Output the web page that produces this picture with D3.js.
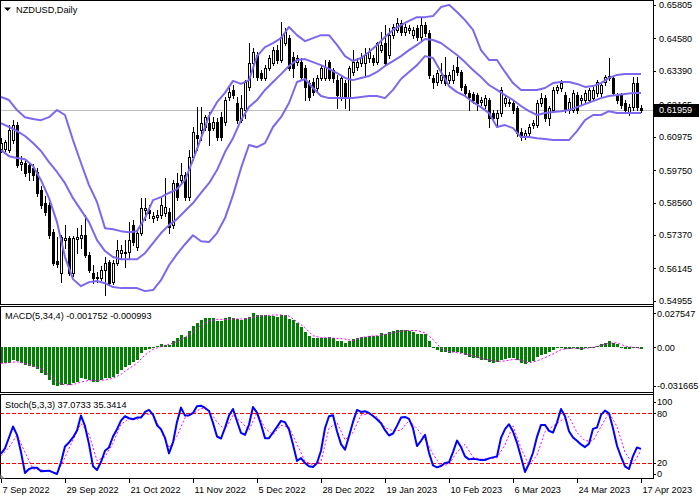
<!DOCTYPE html>
<html><head><meta charset="utf-8">
<script src="https://cdn.jsdelivr.net/npm/d3@7"></script>
<style>
html,body{margin:0;padding:0;background:#fff;}
svg{display:block;}
text{font-family:"Liberation Sans",Arial,sans-serif;font-size:9.2px;}
</style></head><body>
<svg id="c" width="699" height="500"></svg>
<script>
// ---------------- DATA ----------------
const symbolTitle = "NZDUSD,Daily";
const dateLabels = ["7 Sep 2022","29 Sep 2022","21 Oct 2022","11 Nov 2022","5 Dec 2022","28 Dec 2022","19 Jan 2023","10 Feb 2023","6 Mar 2023","24 Mar 2023","17 Apr 2023"];
const dateTickBars = [0,16,32,48,64,80,96,112,128,144,160];

const open = [0.6052,0.6052,0.6048,0.6085,0.6140,0.5997,0.6001,0.5993,0.5982,0.5968,
0.5902,0.5854,0.5847,0.5747,0.5641,0.5597,0.5718,0.5725,0.5597,0.5722,
0.5725,0.5736,0.5663,0.5597,0.5579,0.5579,0.5608,0.5637,0.5564,0.5634,
0.5670,0.5670,0.5674,0.5773,0.5692,0.5744,0.5828,0.5828,0.5799,0.5802,
0.5810,0.5817,0.5821,0.5773,0.5927,0.5938,0.5957,0.5876,0.6023,0.6103,
0.6122,0.6133,0.6147,0.6129,0.6151,0.6169,0.6151,0.6243,0.6269,0.6221,
0.6158,0.6195,0.6280,0.6368,0.6397,0.6331,0.6313,0.6349,0.6368,0.6415,
0.6379,0.6441,0.6459,0.6390,0.6371,0.6371,0.6349,0.6294,0.6298,0.6276,
0.6313,0.6313,0.6371,0.6342,0.6305,0.6243,0.6294,0.6243,0.6335,0.6353,
0.6368,0.6368,0.6386,0.6386,0.6371,0.6415,0.6441,0.6397,0.6470,0.6489,
0.6514,0.6481,0.6489,0.6470,0.6496,0.6463,0.6507,0.6478,0.6313,0.6298,
0.6305,0.6324,0.6305,0.6305,0.6353,0.6335,0.6283,0.6258,0.6254,0.6250,
0.6224,0.6213,0.6232,0.6184,0.6166,0.6184,0.6221,0.6224,0.6221,0.6202,
0.6114,0.6096,0.6111,0.6140,0.6140,0.6221,0.6239,0.6166,0.6195,0.6269,
0.6276,0.6250,0.6195,0.6195,0.6250,0.6232,0.6232,0.6232,0.6239,0.6258,
0.6258,0.6298,0.6313,0.6313,0.6250,0.6250,0.6221,0.6184,0.6206,0.6294,
0.6202];
const high = [0.6092,0.6085,0.6140,0.6158,0.6151,0.6026,0.6012,0.6001,0.5997,0.5982,
0.5916,0.5880,0.5858,0.5758,0.5729,0.5736,0.5773,0.5733,0.5733,0.5762,
0.5773,0.5810,0.5674,0.5626,0.5601,0.5623,0.5656,0.5645,0.5645,0.5718,
0.5700,0.5718,0.5784,0.5791,0.5755,0.5872,0.5872,0.5847,0.5821,0.5828,
0.5872,0.5946,0.5835,0.5938,0.5964,0.6001,0.5968,0.6048,0.6133,0.6206,
0.6206,0.6177,0.6188,0.6169,0.6166,0.6188,0.6243,0.6287,0.6287,0.6243,
0.6250,0.6305,0.6441,0.6423,0.6408,0.6342,0.6360,0.6397,0.6426,0.6434,
0.6518,0.6496,0.6470,0.6408,0.6397,0.6386,0.6360,0.6305,0.6313,0.6324,
0.6360,0.6379,0.6379,0.6349,0.6324,0.6324,0.6305,0.6357,0.6415,0.6386,
0.6404,0.6423,0.6423,0.6397,0.6445,0.6481,0.6507,0.6496,0.6511,0.6533,
0.6525,0.6511,0.6507,0.6500,0.6507,0.6533,0.6518,0.6489,0.6324,0.6342,
0.6368,0.6390,0.6335,0.6360,0.6390,0.6342,0.6291,0.6269,0.6261,0.6258,
0.6243,0.6250,0.6239,0.6195,0.6195,0.6280,0.6250,0.6235,0.6228,0.6210,
0.6129,0.6122,0.6144,0.6158,0.6232,0.6258,0.6250,0.6210,0.6280,0.6287,
0.6305,0.6261,0.6239,0.6269,0.6261,0.6250,0.6269,0.6276,0.6280,0.6305,
0.6298,0.6324,0.6386,0.6320,0.6258,0.6258,0.6232,0.6217,0.6316,0.6316,
0.6213];
const low = [0.6041,0.6045,0.6041,0.6074,0.5986,0.5975,0.5953,0.5938,0.5938,0.5880,
0.5835,0.5810,0.5725,0.5626,0.5619,0.5564,0.5689,0.5590,0.5586,0.5670,
0.5689,0.5656,0.5601,0.5560,0.5564,0.5571,0.5516,0.5553,0.5557,0.5626,
0.5652,0.5619,0.5652,0.5700,0.5681,0.5736,0.5791,0.5799,0.5784,0.5791,
0.5799,0.5806,0.5744,0.5762,0.5865,0.5927,0.5865,0.5865,0.6012,0.6048,
0.6085,0.6122,0.6067,0.6122,0.6085,0.6085,0.6140,0.6232,0.6239,0.6147,
0.6151,0.6166,0.6269,0.6316,0.6305,0.6305,0.6305,0.6342,0.6360,0.6368,
0.6371,0.6434,0.6342,0.6316,0.6360,0.6305,0.6232,0.6232,0.6250,0.6261,
0.6305,0.6305,0.6305,0.6298,0.6202,0.6232,0.6202,0.6195,0.6324,0.6342,
0.6357,0.6324,0.6371,0.6360,0.6364,0.6408,0.6360,0.6386,0.6459,0.6481,
0.6470,0.6470,0.6478,0.6459,0.6452,0.6452,0.6467,0.6313,0.6276,0.6287,
0.6294,0.6287,0.6294,0.6294,0.6324,0.6269,0.6247,0.6195,0.6221,0.6195,
0.6213,0.6202,0.6133,0.6155,0.6133,0.6173,0.6210,0.6210,0.6184,0.6100,
0.6085,0.6089,0.6100,0.6129,0.6133,0.6210,0.6155,0.6140,0.6188,0.6258,
0.6265,0.6188,0.6184,0.6188,0.6184,0.6217,0.6221,0.6224,0.6232,0.6247,
0.6247,0.6287,0.6305,0.6250,0.6221,0.6202,0.6188,0.6177,0.6195,0.6195,
0.6188];
const close = [0.6074,0.6078,0.6122,0.6140,0.5993,0.6004,0.5964,0.5968,0.5957,0.5891,
0.5847,0.5821,0.5736,0.5634,0.5630,0.5729,0.5725,0.5597,0.5725,0.5729,
0.5736,0.5663,0.5608,0.5579,0.5582,0.5608,0.5634,0.5560,0.5634,0.5681,
0.5681,0.5674,0.5718,0.5711,0.5744,0.5835,0.5835,0.5817,0.5806,0.5810,
0.5847,0.5839,0.5766,0.5927,0.5876,0.5957,0.5876,0.6023,0.6114,0.6092,
0.6147,0.6169,0.6122,0.6151,0.6096,0.6096,0.6232,0.6261,0.6250,0.6158,
0.6202,0.6298,0.6368,0.6408,0.6316,0.6313,0.6349,0.6386,0.6415,0.6379,
0.6463,0.6481,0.6349,0.6349,0.6386,0.6316,0.6280,0.6243,0.6261,0.6313,
0.6349,0.6353,0.6313,0.6313,0.6250,0.6313,0.6239,0.6349,0.6371,0.6371,
0.6390,0.6397,0.6408,0.6371,0.6441,0.6434,0.6368,0.6470,0.6500,0.6514,
0.6481,0.6500,0.6496,0.6489,0.6463,0.6507,0.6478,0.6324,0.6298,0.6331,
0.6324,0.6294,0.6324,0.6342,0.6335,0.6280,0.6258,0.6243,0.6232,0.6221,
0.6232,0.6239,0.6166,0.6166,0.6184,0.6269,0.6239,0.6221,0.6195,0.6111,
0.6096,0.6111,0.6133,0.6147,0.6221,0.6239,0.6166,0.6202,0.6269,0.6280,
0.6294,0.6195,0.6224,0.6258,0.6195,0.6239,0.6258,0.6269,0.6269,0.6298,
0.6287,0.6316,0.6320,0.6258,0.6232,0.6213,0.6195,0.6206,0.6294,0.6206,
0.6196];

// Bollinger Bands, read every second bar
const bbBars = d3.range(0, 161, 2);
const bbUpper = [0.6243,0.6232,0.6195,0.6169,0.6162,0.6158,0.6169,0.6195,0.6177,0.6085,
0.6001,0.5920,0.5858,0.5762,0.5758,0.5751,0.5747,0.5751,0.5799,0.5865,
0.5876,0.5891,0.5905,0.5938,0.6012,0.6092,0.6173,0.6224,0.6258,0.6302,
0.6291,0.6305,0.6393,0.6426,0.6441,0.6459,0.6500,0.6470,0.6448,0.6459,
0.6470,0.6470,0.6434,0.6393,0.6375,0.6386,0.6408,0.6434,0.6463,0.6489,
0.6507,0.6522,0.6536,0.6536,0.6540,0.6573,0.6581,0.6555,0.6525,0.6489,
0.6415,0.6379,0.6379,0.6335,0.6294,0.6269,0.6269,0.6269,0.6276,0.6294,
0.6298,0.6298,0.6291,0.6280,0.6283,0.6294,0.6313,0.6324,0.6327,0.6327,
0.6327];
const bbMiddle = [0.6147,0.6133,0.6118,0.6100,0.6074,0.6045,0.6004,0.5968,0.5927,0.5872,
0.5828,0.5784,0.5718,0.5678,0.5656,0.5648,0.5648,0.5648,0.5670,0.5707,
0.5744,0.5773,0.5795,0.5825,0.5854,0.5891,0.5927,0.5975,0.6041,0.6092,
0.6158,0.6206,0.6232,0.6269,0.6298,0.6327,0.6357,0.6379,0.6382,0.6371,
0.6360,0.6346,0.6331,0.6313,0.6305,0.6313,0.6320,0.6335,0.6357,0.6375,
0.6393,0.6415,0.6434,0.6456,0.6452,0.6441,0.6419,0.6397,0.6371,0.6342,
0.6316,0.6287,0.6269,0.6250,0.6232,0.6210,0.6191,0.6177,0.6184,0.6188,
0.6191,0.6195,0.6206,0.6217,0.6228,0.6239,0.6247,0.6250,0.6254,0.6258,
0.6258];
const bbLower = [0.6048,0.6026,0.6019,0.6015,0.5990,0.5938,0.5872,0.5784,0.5656,0.5575,
0.5549,0.5564,0.5568,0.5560,0.5546,0.5542,0.5542,0.5542,0.5531,0.5535,
0.5571,0.5626,0.5667,0.5703,0.5736,0.5714,0.5711,0.5744,0.5799,0.5883,
0.5982,0.6067,0.6059,0.6074,0.6133,0.6169,0.6221,0.6298,0.6309,0.6276,
0.6247,0.6239,0.6239,0.6239,0.6239,0.6243,0.6247,0.6247,0.6239,0.6269,
0.6309,0.6335,0.6360,0.6393,0.6386,0.6335,0.6283,0.6261,0.6247,0.6224,
0.6206,0.6184,0.6133,0.6140,0.6129,0.6096,0.6096,0.6092,0.6089,0.6085,
0.6085,0.6085,0.6118,0.6158,0.6177,0.6177,0.6191,0.6184,0.6184,0.6184,
0.6184];

// MACD(5,34,4)
const macdMain = [-0.0132,-0.0132,-0.0132,-0.0105,-0.0113,-0.0132,-0.0146,-0.0151,-0.0159,-0.0178,
-0.0214,-0.0227,-0.0268,-0.0306,-0.031665,-0.0310,-0.0302,-0.0310,-0.0293,-0.0280,
-0.0254,-0.0260,-0.0268,-0.0287,-0.0287,-0.0268,-0.0254,-0.0254,-0.0241,-0.0222,
-0.0187,-0.0159,-0.0146,-0.0119,-0.0105,-0.0051,-0.0024,-0.0016,-0.0010,0.0012,
0.0023,0.0017,0.0017,0.0050,0.0077,0.0099,0.0085,0.0131,0.0172,0.0194,
0.0221,0.0234,0.0234,0.0234,0.0213,0.0213,0.0234,0.0248,0.0234,0.0229,
0.0221,0.0234,0.0248,0.027547,0.0260,0.0258,0.0258,0.0254,0.0254,0.0248,
0.0262,0.0262,0.0229,0.0221,0.0194,0.0166,0.0126,0.0093,0.0077,0.0071,
0.0077,0.0077,0.0085,0.0077,0.0050,0.0050,0.0031,0.0050,0.0066,0.0077,
0.0085,0.0085,0.0090,0.0090,0.0093,0.0112,0.0104,0.0120,0.0131,0.0139,
0.0139,0.0139,0.0134,0.0126,0.0107,0.0107,0.0107,0.0050,0.0001,-0.0024,
-0.0037,-0.0043,-0.0051,-0.0043,-0.0043,-0.0051,-0.0064,-0.0078,-0.0086,-0.0091,
-0.0105,-0.0105,-0.0119,-0.0132,-0.0119,-0.0105,-0.0097,-0.0091,-0.0086,-0.0105,
-0.0132,-0.0140,-0.0124,-0.0113,-0.0078,-0.0064,-0.0059,-0.0037,-0.0024,-0.0005,
-0.0002,-0.0015,-0.0015,-0.0010,-0.0015,-0.0024,-0.0010,-0.0010,-0.0002,0.0009,
0.0023,0.0036,0.0050,0.0031,0.0023,0.0004,-0.0015,-0.0015,-0.0005,-0.0005,
-0.001752];
const macdSignalBars = d3.range(0, 161, 2);
const macdSignal = [-0.0132,-0.0127,-0.0119,-0.0132,-0.0154,-0.0178,-0.0227,-0.0287,-0.0308,-0.0305,
-0.0285,-0.0270,-0.0270,-0.0268,-0.0254,-0.0222,-0.0173,-0.0132,-0.0064,-0.0018,
0.0004,0.0023,0.0044,0.0080,0.0120,0.0180,0.0213,0.0226,0.0226,0.0229,
0.0229,0.0234,0.0253,0.0256,0.0262,0.0262,0.0253,0.0207,0.0158,0.0093,
0.0077,0.0077,0.0071,0.0066,0.0052,0.0077,0.0088,0.0093,0.0104,0.0117,
0.0131,0.0136,0.0134,0.0117,0.0063,-0.0010,-0.0037,-0.0045,-0.0056,-0.0070,
-0.0091,-0.0105,-0.0116,-0.0113,-0.0100,-0.0105,-0.0129,-0.0111,-0.0086,-0.0056,
-0.0021,-0.0010,-0.0010,-0.0010,-0.0002,0.0014,0.0031,0.0036,0.0009,-0.0002,
-0.000993];

// Stochastic(5,3,3)
const stochMain = [31.2,37.6,50.8,64.0,54.0,33.2,8.0,12.8,14.4,14.4,
10.0,10.4,10.8,8.8,6.8,20.8,40.0,44.8,50.8,59.2,
77.2,64.4,42.8,16.0,11.6,21.2,34.8,38.8,52.0,60.8,
71.2,76.4,74.0,72.8,74.8,74.8,81.6,84.0,78.4,65.6,
60.8,50.4,31.6,44.8,69.6,86.8,77.2,77.6,80.4,88.4,
89.2,86.4,82.8,68.4,52.0,49.6,62.4,77.2,85.2,70.4,
56.4,54.0,66.4,87.6,80.8,66.8,50.0,50.0,56.8,63.6,
70.8,69.2,60.4,42.4,22.4,26.0,20.0,16.0,15.2,20.0,
34.8,62.0,76.4,77.6,58.4,42.8,36.0,52.4,69.6,84.0,
81.6,82.4,80.4,76.8,72.8,68.0,59.6,53.2,55.6,64.8,
74.8,75.6,73.2,62.0,40.4,46.8,54.0,32.4,17.2,14.8,
16.4,20.0,20.8,33.2,47.2,39.2,28.0,24.4,25.2,24.4,
23.6,23.6,25.6,26.8,28.0,50.4,60.8,66.8,58.0,44.4,
27.2,9.2,19.2,32.4,51.6,66.0,66.0,58.8,56.8,68.8,
85.2,76.4,58.4,50.8,46.8,42.4,39.2,43.2,61.2,62.8,
78.0,83.2,80.0,62.0,40.8,27.6,16.0,12.8,28.4,38.8,
37.0733];
const stochSignalBars = d3.range(0, 161, 2);
const stochSignal = [28.8,38.8,54.0,33.0,13.0,11.6,10.0,7.2,26.8,48.0,
67.6,55.0,22.8,27.6,44.0,66.8,73.6,72.4,78.8,79.0,
59.0,38.4,52.4,74.8,79.6,86.0,84.0,69.2,60.4,77.6,
69.6,59.6,81.2,62.0,54.0,65.6,63.2,42.8,22.0,18.0,
21.6,62.0,68.8,48.0,56.8,78.0,79.2,75.6,62.8,58.8,
59.6,71.2,61.6,48.8,30.8,16.4,18.4,33.2,42.4,27.0,
24.4,25.2,26.4,42.0,64.8,38.0,17.2,29.6,58.0,64.4,
71.2,76.0,56.8,46.8,46.8,64.0,80.8,64.0,33.0,18.8,
35.3414];

const priceTicks = [0.65805,0.64580,0.63390,0.62165,0.60975,0.59750,0.58560,0.57370,0.56145,0.54955];
const currentPrice = 0.61959;
const macdTicks = [0.027547, 0, -0.031665];
const stochTicks = [100, 80, 20, 0];
const stochLevels = [80, 20];
const macdLabel = "MACD(5,34,4) -0.001752 -0.000993";
const stochLabel = "Stoch(5,3,3) 37.0733 35.3414";

// ---------------- LAYOUT ----------------
const plotRight = 653;
const mainTop = 0.5, mainBottom = 304.5;
const macdTop = 306.5, macdBottom = 392.5;
const stTop = 394.5, stBottom = 478.5;

const svg = d3.select("#c");
const x = d3.scaleLinear().domain([0, 160]).range([1, 641]);
const yMain = d3.scaleLinear().domain([0.54955, 0.65805]).range([300.8, 5]);
const yMacd = d3.scaleLinear().domain([-0.031665, 0.027547]).range([386, 313.3]);
const ySt = d3.scaleLinear().domain([0, 100]).range([479.6, 396.7]);

const defs = svg.append("defs");
function clip(id, y0, y1) {
  defs.append("clipPath").attr("id", id).append("rect")
    .attr("x", 1).attr("y", y0).attr("width", plotRight - 1).attr("height", y1 - y0);
}
clip("clipMain", 1, mainBottom);
clip("clipMacd", macdTop + 0.5, macdBottom);
clip("clipSt", stTop + 0.5, stBottom);

// ----- main panel -----
const gMain = svg.append("g").attr("clip-path", "url(#clipMain)");
gMain.append("line").attr("shape-rendering", "crispEdges")
  .attr("x1", 0).attr("x2", plotRight)
  .attr("y1", Math.round(yMain(currentPrice)) + 0.5).attr("y2", Math.round(yMain(currentPrice)) + 0.5)
  .attr("stroke", "#c0c0c0");

const candles = open.map((o, i) => ({ i, o, h: high[i], l: low[i], c: close[i] }));
const gC = gMain.append("g").attr("shape-rendering", "crispEdges");
gC.selectAll("line").data(candles).join("line")
  .attr("x1", d => x(d.i) + 0.5).attr("x2", d => x(d.i) + 0.5)
  .attr("y1", d => Math.round(yMain(d.h))).attr("y2", d => Math.round(yMain(d.l)) + 1)
  .attr("stroke", "#000");
gC.selectAll("rect").data(candles).join("rect")
  .each(function (d) {
    const t = Math.round(yMain(Math.max(d.o, d.c)));
    const b = Math.round(yMain(Math.min(d.o, d.c)));
    const X = x(d.i);
    const r = d3.select(this);
    if (d.c > d.o) {
      r.attr("x", X - 0.5).attr("y", t + 0.5).attr("width", 2).attr("height", Math.max(1, b - t))
        .attr("fill", "#fff").attr("stroke", "#000");
    } else {
      r.attr("x", X - 1).attr("y", t).attr("width", 3).attr("height", Math.max(1, b - t + 1))
        .attr("fill", "#000");
    }
  });

const bandLine = arr => d3.line().x((d, k) => x(bbBars[k])).y(d => yMain(d))(arr);
[bbUpper, bbMiddle, bbLower].forEach(b => {
  gMain.append("path").attr("d", bandLine(b)).attr("fill", "none")
    .attr("stroke", "#7b68ee").attr("stroke-width", 2).attr("stroke-linejoin", "round");
});

// ----- MACD panel -----
const gMacd = svg.append("g").attr("clip-path", "url(#clipMacd)");
const y0m = Math.round(yMacd(0));
gMacd.append("g").attr("shape-rendering", "crispEdges")
  .selectAll("rect").data(macdMain).join("rect")
  .attr("x", (d, i) => x(i) - 1).attr("width", 3)
  .attr("y", d => Math.min(Math.round(yMacd(d)), y0m))
  .attr("height", d => Math.max(1, Math.abs(Math.round(yMacd(d)) - y0m)))
  .attr("fill", "#008000");
gMacd.append("path")
  .attr("d", d3.line().x((d, k) => x(macdSignalBars[k])).y(d => yMacd(d))(macdSignal))
  .attr("fill", "none").attr("stroke", "#ff00ff").attr("stroke-width", 1).attr("stroke-dasharray", "2,2");

// ----- Stochastic panel -----
const gSt = svg.append("g").attr("clip-path", "url(#clipSt)");
gSt.selectAll("line.lvl").data(stochLevels).join("line").attr("class", "lvl")
  .attr("shape-rendering", "crispEdges")
  .attr("x1", 0).attr("x2", plotRight)
  .attr("y1", d => Math.round(ySt(d)) + 0.5).attr("y2", d => Math.round(ySt(d)) + 0.5)
  .attr("stroke", "#ff0000").attr("stroke-dasharray", "4,2");
gSt.append("path")
  .attr("d", d3.line().x((d, k) => x(stochSignalBars[k])).y(d => ySt(d))(stochSignal))
  .attr("fill", "none").attr("stroke", "#ff00ff").attr("stroke-width", 1).attr("stroke-dasharray", "2,2");
gSt.append("path")
  .attr("d", d3.line().x((d, i) => x(i)).y(d => ySt(d))(stochMain))
  .attr("fill", "none").attr("stroke", "#0000ff").attr("stroke-width", 2).attr("stroke-linejoin", "round");

// ----- frames -----
const frames = svg.append("g").attr("fill", "none").attr("stroke", "#000").attr("shape-rendering", "crispEdges");
[[mainTop, mainBottom], [macdTop, macdBottom], [stTop, stBottom]].forEach(([a, b]) => {
  frames.append("rect").attr("x", 0.5).attr("y", a).attr("width", plotRight).attr("height", b - a);
});
frames.append("line").attr("x1", plotRight + 0.5).attr("x2", plotRight + 0.5).attr("y1", 0).attr("y2", stBottom);

// ----- axes -----
function styleAxis(g) {
  g.attr("font-family", null).attr("font-size", null);
  g.select(".domain").remove();
  g.selectAll("line").attr("shape-rendering", "crispEdges");
}
const gP = svg.append("g").attr("transform", `translate(${plotRight},0)`)
  .call(d3.axisRight(yMain).tickValues(priceTicks).tickFormat(d3.format(".5f")).tickSize(3).tickPadding(3));
styleAxis(gP);

const gMA = svg.append("g").attr("transform", `translate(${plotRight},0)`)
  .call(d3.axisRight(yMacd).tickValues(macdTicks).tickFormat(d => d === 0 ? "0.00" : d.toFixed(6)).tickSize(3).tickPadding(1));
styleAxis(gMA);

const gSA = svg.append("g").attr("transform", `translate(${plotRight},0)`)
  .call(d3.axisRight(ySt).tickValues(stochTicks).tickFormat(d3.format("d")).tickSize(3).tickPadding(1));
styleAxis(gSA);
gSA.selectAll(".tick").attr("transform", d => `translate(0,${Math.max(stTop + 7, Math.min(stBottom - 4.5, ySt(d))) + 0.5})`);

const gD = svg.append("g").attr("transform", `translate(0,${stBottom})`)
  .call(d3.axisBottom(x).tickValues(dateTickBars).tickFormat((d, k) => dateLabels[k]).tickSize(4).tickPadding(4));
styleAxis(gD);
gD.selectAll("text").attr("text-anchor", "start").attr("x", 1);

// current price box
const yc = yMain(currentPrice);
svg.append("rect").attr("x", plotRight + 1).attr("y", Math.round(yc) - 6).attr("width", 699 - plotRight - 1).attr("height", 13).attr("fill", "#000");
svg.append("text").attr("x", plotRight + 6).attr("y", yc).attr("dy", "0.34em").attr("fill", "#fff").text(d3.format(".5f")(currentPrice));

// ----- labels -----
svg.append("path").attr("d", "M4,7.5 L11,7.5 L7.5,11 Z").attr("fill", "#000");
svg.append("text").attr("x", 16).attr("y", 12.5).attr("fill", "#000").text(symbolTitle);
svg.append("text").attr("x", 5).attr("y", 319).attr("fill", "#000").text(macdLabel);
svg.append("text").attr("x", 5).attr("y", 408).attr("fill", "#000").text(stochLabel);
svg.append("path").attr("d", `M0.5,${stBottom - 4} L0.5,${stBottom} L5,${stBottom} Z`).attr("fill", "#a0a0a0");
</script>
</body></html>
